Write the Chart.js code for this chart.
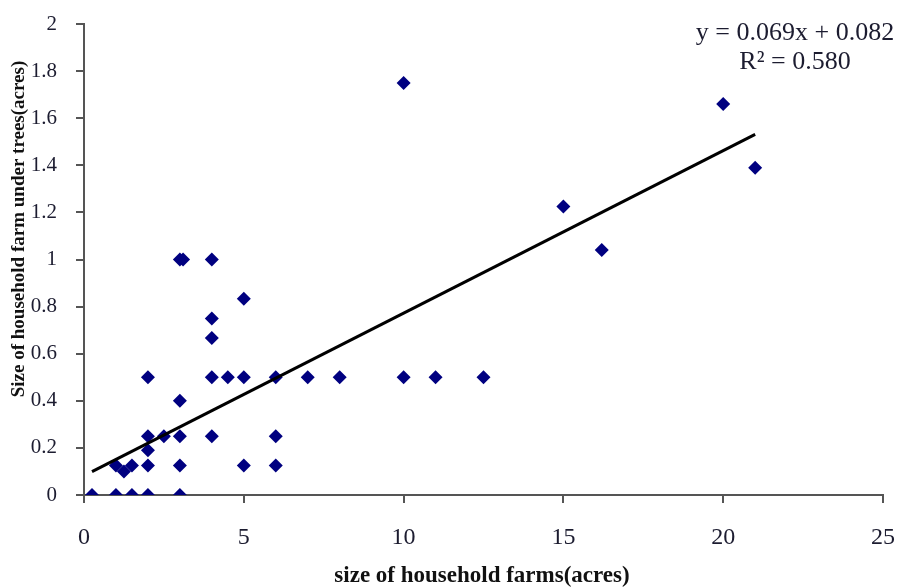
<!DOCTYPE html>
<html>
<head>
<meta charset="utf-8">
<script src="https://cdn.jsdelivr.net/npm/chart.js@4.4.1/dist/chart.umd.min.js"></script>
<style>
  html, body { margin: 0; padding: 0; background: #fff; }
  #wrap { width: 899px; height: 588px; }
</style>
</head>
<body>
<div id="wrap"><canvas id="farms"></canvas></div>
<script>
// household farm size vs area under trees (acres)
const farmSize = [0.25, 1, 1.5, 2, 3,
  1, 1.25, 1.5, 2, 3, 5, 6,
  2, 2, 2.5, 3, 4, 6,
  3,
  2, 4, 4.5, 5, 6, 7, 8, 10, 11, 12.5,
  4, 4, 5,
  3, 3.1, 4,
  15, 16.2, 21, 20, 10];
const treeArea = [0, 0, 0, 0, 0,
  0.125, 0.1, 0.125, 0.125, 0.125, 0.125, 0.125,
  0.19, 0.25, 0.25, 0.25, 0.25, 0.25,
  0.4,
  0.5, 0.5, 0.5, 0.5, 0.5, 0.5, 0.5, 0.5, 0.5, 0.5,
  0.667, 0.75, 0.833,
  1, 1, 1,
  1.225, 1.04, 1.39, 1.66, 1.75];

// fitted line ends as drawn in the picture
const trendX = [0.25, 21];
const trendY = [0.099, 1.531];
const equationText = ['y = 0.069x + 0.082', 'R\u00b2 = 0.580'];

const xTitle = 'size of household farms(acres)';
const yTitle = 'Size of household farm under trees(acres)';

const serif = '"Liberation Serif", "Times New Roman", serif';
const inkColor = '#1c1c30';

const labelsPlugin = {
  id: 'labelsPlugin',
  afterDraw(chart) {
    const ctx = chart.ctx;
    ctx.save();
    ctx.fillStyle = inkColor;
    ctx.textAlign = 'center';
    ctx.textBaseline = 'middle';
    ctx.font = '26px ' + serif;
    ctx.fillText(equationText[0], 795, 33);
    ctx.fillText(equationText[1], 795, 62);

    ctx.fillStyle = '#111';
    ctx.font = 'bold 23px ' + serif;
    ctx.fillText(xTitle, 482, 576);

    ctx.font = 'bold 19px ' + serif;
    ctx.translate(19, 229);
    ctx.rotate(-Math.PI / 2);
    ctx.fillText(yTitle, 0, 0);
    ctx.restore();
  }
};

const points = farmSize.map((x, i) => ({ x: x, y: treeArea[i] }));
const trend = trendX.map((x, i) => ({ x: x, y: trendY[i] }));

const farmsCtx = document.getElementById('farms').getContext('2d');
const farmsChart = new Chart(farmsCtx, {
  type: 'scatter',
  data: {
    datasets: [
      {
        label: 'Linear trend',
        type: 'line',
        data: trend,
        borderColor: '#000',
        borderWidth: 3,
        pointRadius: 0,
        fill: false,
      },
      {
        label: 'Farms',
        data: points,
        pointStyle: 'rectRot',
        pointRadius: 7,
        backgroundColor: '#000080',
        borderColor: '#000080',
        borderWidth: 0,
      },
    ],
  },
  options: {
    responsive: true,
    maintainAspectRatio: false,
    animation: false,
    layout: { padding: { left: 0, right: 16, top: 24, bottom: 0 } },
    plugins: {
      legend: { display: false },
      tooltip: { enabled: false },
    },
    scales: {
      x: {
        type: 'linear',
        min: 0,
        max: 25,
        ticks: {
          stepSize: 5,
          padding: 20,
          color: inkColor,
          font: { family: serif, size: 24 },
        },
        grid: { drawOnChartArea: false, drawTicks: true, tickLength: 8, color: '#555', lineWidth: 2 },
        border: { display: true, color: '#555', width: 2 },
        afterFit(scale) {
          scale.height = 93;
          scale.paddingLeft = 0;
          scale.paddingRight = 0;
        },
      },
      y: {
        type: 'linear',
        min: 0,
        max: 2,
        ticks: {
          stepSize: 0.2,
          padding: 19,
          color: inkColor,
          font: { family: serif, size: 21 },
          callback: (v) => Number(v.toFixed(1)).toString(),
        },
        grid: { drawOnChartArea: false, drawTicks: true, tickLength: 8, color: '#555', lineWidth: 2 },
        border: { display: true, color: '#555', width: 2 },
        afterFit(scale) {
          scale.width = 84;
          scale.paddingTop = 0;
          scale.paddingBottom = 0;
        },
      },
    },
  },
  plugins: [labelsPlugin],
});
</script>
</body>
</html>
